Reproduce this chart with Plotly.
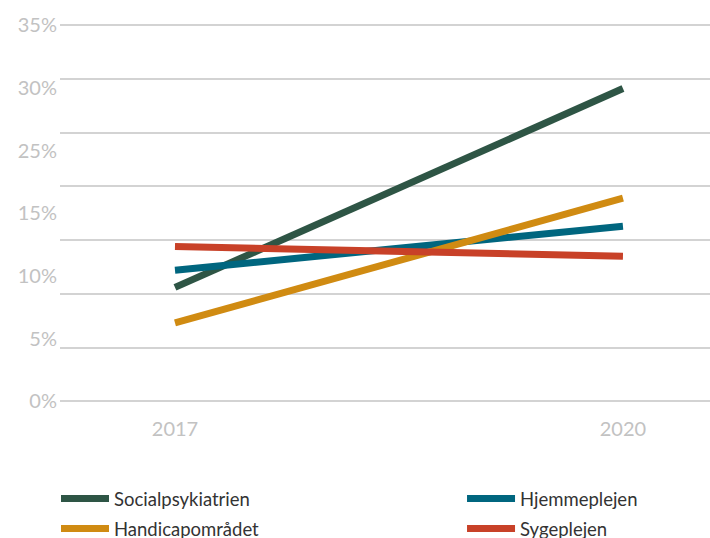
import plotly.graph_objects as go

years = [2017, 2020]
series_names = ["Socialpsykiatrien", "Hjemmeplejen", "Handicapområdet", "Sygeplejen"]
socialpsykiatrien = [10.6, 29.1]
hjemmeplejen = [12.2, 16.3]
handicapomraadet = [7.3, 18.9]
sygeplejen = [14.4, 13.5]
colors = ["#2e5545", "#00667f", "#d08b12", "#c84128"]
legend_ids = ["legend", "legend2", "legend", "legend2"]
y_tick_labels = ["0%", "5%", "10%", "15%", "25%", "30%", "35%"]
x_tick_labels = ["2017", "2020"]

values = [socialpsykiatrien, hjemmeplejen, handicapomraadet, sygeplejen]

fig = go.Figure()
for name, vals, col, lg in zip(series_names, values, colors, legend_ids):
    fig.add_trace(go.Scatter(x=years, y=vals, mode="lines", name=name,
                             legend=lg, legendgroup=name,
                             line=dict(color=col, width=7)))

# invisible trace to activate the label axis
fig.add_trace(go.Scatter(x=[years[0]], y=[0], yaxis="y2", mode="markers",
                         marker=dict(opacity=0), showlegend=False, hoverinfo="skip"))

label_font = dict(family="Lato, sans-serif", size=20, color="#c2c2c2")
legend_font = dict(family="Lato, sans-serif", size=18.5, color="#333333")

ydom = [0.15064, 1]
fig.update_layout(
    width=710, height=538,
    margin=dict(l=60, r=0, t=22.85, b=0, pad=0),
    plot_bgcolor="white", paper_bgcolor="white",
    showlegend=True,
    xaxis=dict(range=[2016.23, 2020.583], tickvals=years, ticktext=x_tick_labels,
               showgrid=False, zeroline=False, showline=False,
               tickfont=label_font, ticks="outside", ticklen=0,
               ticklabelstandoff=7),
    yaxis=dict(range=[-0.2, 35.2], dtick=5, tick0=0, showticklabels=False, showgrid=True,
               gridcolor="#d3d3d3", gridwidth=1.5, zeroline=False, showline=False,
               domain=ydom),
    yaxis2=dict(range=[-0.0343, 6.0343], overlaying="y", side="left",
                tickvals=list(range(len(y_tick_labels))), ticktext=y_tick_labels,
                showgrid=False, zeroline=False, showline=False,
                tickfont=label_font, ticks="", ticklabelstandoff=2),
    legend=dict(orientation="v", x=-0.00615, xanchor="left",
                yref="container", y=0.10781, yanchor="top",
                itemwidth=48, font=legend_font, traceorder="grouped",
                tracegroupgap=3, bgcolor="rgba(0,0,0,0)"),
    legend2=dict(orientation="v", x=0.6185, xanchor="left",
                 yref="container", y=0.10781, yanchor="top",
                 itemwidth=48, font=legend_font, traceorder="grouped",
                 tracegroupgap=3, bgcolor="rgba(0,0,0,0)"),
)

fig.write_html("out.html", config={"displayModeBar": False},
               post_script="document.body.style.margin='0px';")
